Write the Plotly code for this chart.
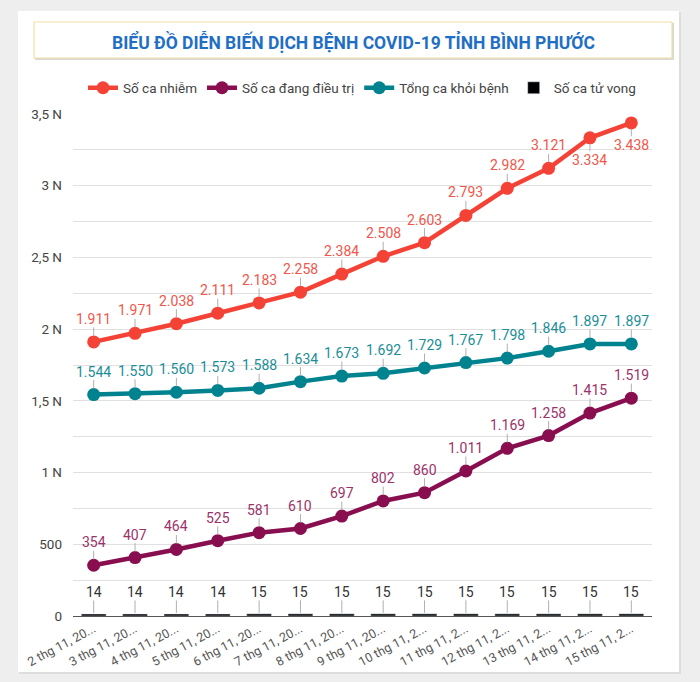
import plotly.graph_objects as go

dates = ["2 thg 11, 20...", "3 thg 11, 20...", "4 thg 11, 20...", "5 thg 11, 20...",
         "6 thg 11, 20...", "7 thg 11, 20...", "8 thg 11, 20...", "9 thg 11, 20...",
         "10 thg 11, 2...", "11 thg 11, 2...", "12 thg 11, 2...", "13 thg 11, 2...",
         "14 thg 11, 2...", "15 thg 11, 2..."]
infected = [1911, 1971, 2038, 2111, 2183, 2258, 2384, 2508, 2603, 2793, 2982, 3121, 3334, 3438]
treating = [354, 407, 464, 525, 581, 610, 697, 802, 860, 1011, 1169, 1258, 1415, 1519]
recovered = [1544, 1550, 1560, 1573, 1588, 1634, 1673, 1692, 1729, 1767, 1798, 1846, 1897, 1897]
deaths = [14, 14, 14, 14, 15, 15, 15, 15, 15, 15, 15, 15, 15, 15]

y_tickvals = [0, 500, 1000, 1500, 2000, 2500, 3000, 3500]
y_ticktext = ["0", "500", "1 N", "1,5 N", "2 N", "2,5 N", "3 N", "3,5 N"]
y_minorvals = [250, 750, 1250, 1750, 2250, 2750, 3250]

RED = "#f44336"
PURPLE = "#880e4f"
TEAL = "#00838f"
FONT = "Roboto"

W, H = 700, 682
L, R, T, B = 73, 48, 114, 66
pw, ph = W - L - R, H - T - B


def px2paper_x(px):
    return (px - L) / pw


def px2paper_y(py):
    return 1 - (py - T) / ph


def fmt(v):
    return f"{v:,}".replace(",", ".")


fig = go.Figure()

fig.add_trace(go.Bar(x=dates, y=deaths, name="Số ca tử vong", marker_color="#000000",
                     width=0.6, showlegend=True))
series = [
    ("Số ca nhiễm", infected, RED, "#f2564a"),
    ("Số ca đang điều trị", treating, PURPLE, "#9b336a"),
    ("Tổng ca khỏi bệnh", recovered, TEAL, "#1a8e98"),
]
for name, vals, col, _ in series:
    fig.add_trace(go.Scatter(x=dates, y=vals, name=name, mode="lines+markers",
                             line=dict(color=col, width=4.5),
                             marker=dict(color=col, size=13)))

fig.data[0].legendrank = 1004
for i, tr in enumerate(fig.data[1:]):
    tr.legendrank = 1000 + i

annotations = []
for name, vals, col, lcol in series:
    for i, (d, v) in enumerate(zip(dates, vals)):
        below = (name == "Số ca nhiễm" and i >= 12)
        annotations.append(dict(
            x=d, y=v, xref="x", yref="y", text=fmt(v),
            showarrow=True, arrowhead=0, arrowwidth=1, arrowcolor="#b0b0b0",
            ax=0, ay=22 if below else -23, standoff=6,
            font=dict(family=FONT, size=14, color=lcol), borderpad=0))
for d, v in zip(dates, deaths):
    annotations.append(dict(
        x=d, y=v, xref="x", yref="y", text=str(v),
        showarrow=True, arrowhead=0, arrowwidth=1, arrowcolor="#b0b0b0",
        ax=0, ay=-22, standoff=1,
        font=dict(family=FONT, size=14, color="#333333"), borderpad=0))

annotations.append(dict(
    x=px2paper_x(353), y=px2paper_y(42), xref="paper", yref="paper",
    text="<b>BIỂU ĐỒ DIỄN BIẾN DỊCH BỆNH COVID-19 TỈNH BÌNH PHƯỚC</b>",
    showarrow=False, xanchor="center", yanchor="middle",
    font=dict(family=FONT, size=17.5, color="#1f6fc5")))

shapes = [
    dict(type="rect", xref="paper", yref="paper", layer="below",
         x0=px2paper_x(19), x1=px2paper_x(681), y0=px2paper_y(674), y1=px2paper_y(12),
         fillcolor="#dddddd", line=dict(width=0)),
    dict(type="rect", xref="paper", yref="paper", layer="below",
         x0=px2paper_x(18), x1=px2paper_x(679), y0=px2paper_y(672), y1=px2paper_y(11),
         fillcolor="#ffffff", line=dict(width=0)),
    dict(type="rect", xref="paper", yref="paper", layer="below",
         x0=px2paper_x(35), x1=px2paper_x(674), y0=px2paper_y(60), y1=px2paper_y(23),
         fillcolor="#d8d8d8", line=dict(width=0)),
    dict(type="rect", xref="paper", yref="paper", layer="below",
         x0=px2paper_x(34), x1=px2paper_x(672), y0=px2paper_y(58), y1=px2paper_y(22),
         fillcolor="#ffffff", line=dict(color="#f3dfa2", width=1.2)),
]

fig.update_layout(
    width=W, height=H,
    margin=dict(l=L, r=R, t=T, b=B, pad=0),
    paper_bgcolor="#eeeeee",
    plot_bgcolor="rgba(0,0,0,0)",
    font=dict(family=FONT, size=12, color="#444444"),
    showlegend=True,
    legend=dict(orientation="h", x=px2paper_x(362), xanchor="center",
                y=px2paper_y(88), yanchor="middle",
                font=dict(family=FONT, size=13.5, color="#444444"),
                bgcolor="rgba(0,0,0,0)", itemwidth=30, traceorder="normal"),
    annotations=annotations,
    shapes=shapes,
    xaxis=dict(type="category", range=[-0.5, 13.5], autorange=False,
               showgrid=False, showline=True, linecolor="#555555",
               linewidth=1, ticks="", tickangle=-28, automargin=False,
               tickfont=dict(family=FONT, size=12.5, color="#555555"), zeroline=False),
    yaxis=dict(range=[0, 3500], autorange=False, tickmode="array",
               tickvals=y_tickvals, ticktext=y_ticktext,
               showgrid=True, gridcolor="#e0e0e0", gridwidth=1, zeroline=False,
               showline=False, ticks="", ticklabelstandoff=10, automargin=False,
               tickfont=dict(family=FONT, size=13.5, color="#444444"),
               minor=dict(tickmode="array", tickvals=y_minorvals, showgrid=True,
                          gridcolor="#e0e0e0", gridwidth=1)),
)

fig.write_html("out.html", config={"displayModeBar": False},
               post_script="document.body.style.margin='0';document.body.style.background='#eeeeee';")
